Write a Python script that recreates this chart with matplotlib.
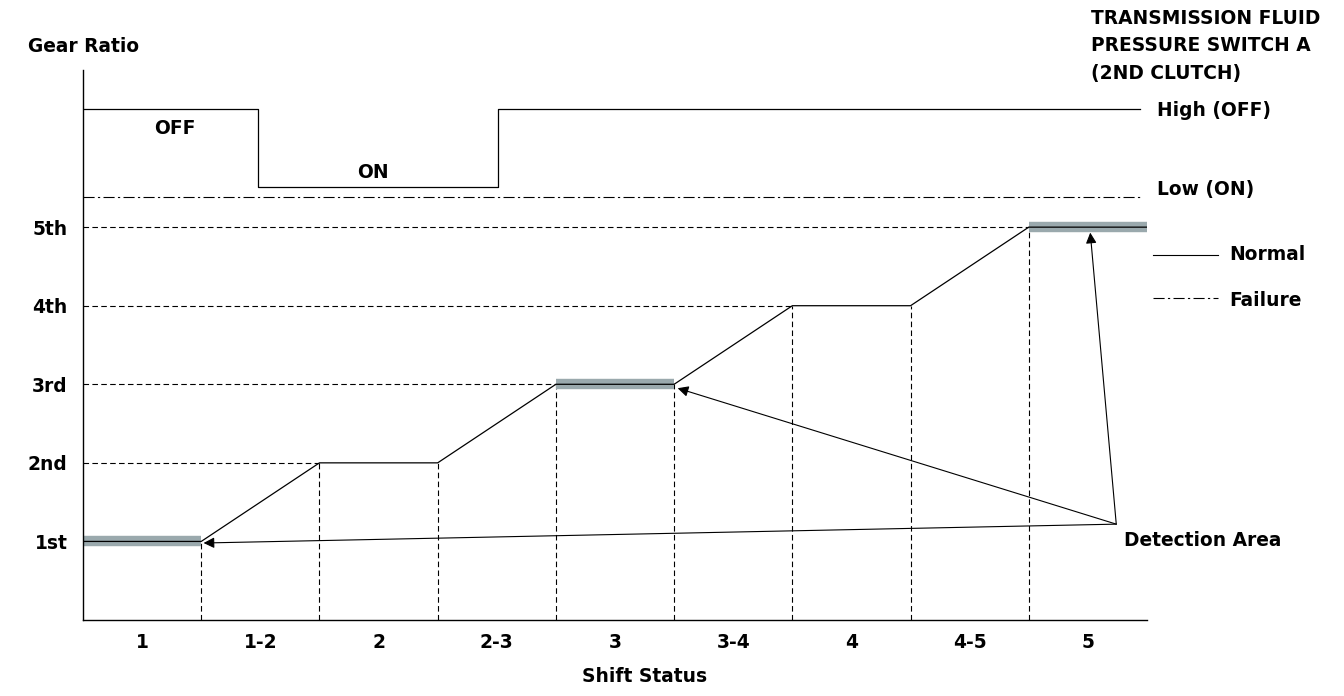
import matplotlib.pyplot as plt

plt.rcParams['font.family'] = ['DejaVu Sans']
plt.rcParams['font.weight'] = 'bold'

# shift status categories and gear levels
shift_labels = ["1", "1-2", "2", "2-3", "3", "3-4", "4", "4-5", "5"]
gear_labels = ["1st", "2nd", "3rd", "4th", "5th"]
gear_levels = [1, 2, 3, 4, 5]

# normal gear ratio trace (x in shift-status units)
trace_x = [0, 1, 2, 3, 4, 5, 6, 7, 8, 9]
trace_y = [1, 1, 2, 2, 3, 3, 4, 4, 5, 5]

# detection areas (held gears where the switch is checked)
detect_x0 = [0, 4, 8]
detect_x1 = [1, 5, 9]
detect_y = [1, 3, 5]

# pressure switch A signal
switch_x = [0, 1.48, 1.48, 3.51, 3.51, 8.94]
switch_y = [6.5, 6.5, 5.51, 5.51, 6.5, 6.5]
switch_low = 5.38

# arrows from "Detection Area"
arrow_from = (8.74, 1.22)
arrow_to = [(1.02, 0.98), (5.03, 2.95), (8.52, 4.93)]

FS = 13.4

fig = plt.figure(figsize=(13.44, 6.96), dpi=100)
ax = fig.add_axes([83 / 1344, 1 - 620 / 696, (1147 - 83) / 1344, 550 / 696])
ax.set_xlim(0, 9)
ax.set_ylim(0, 7)
for s in ['top', 'right']:
    ax.spines[s].set_visible(False)
ax.spines['left'].set_linewidth(1.0)
ax.spines['bottom'].set_linewidth(1.0)

dash = (0, (5, 3))
dashdot = (0, (10, 3, 2, 3))

# gray detection bands
for x0, x1, y in zip(detect_x0, detect_x1, detect_y):
    ax.plot([x0, x1], [y, y], color='#9aa9ad', lw=7.5, solid_capstyle='butt', zorder=2)

# horizontal dashed guides to each gear
for g in gear_levels[1:]:
    xg = trace_x[trace_y.index(g)]
    ax.plot([0, xg], [g, g], color='black', lw=0.8, ls=dash, zorder=1)

# vertical dashed guides at each shift boundary
for xb, yb in zip(trace_x[1:-1], trace_y[1:-1]):
    ax.plot([xb, xb], [0, yb], color='black', lw=0.8, ls=dash, zorder=1)

ax.plot(trace_x, trace_y, color='black', lw=0.9, zorder=3)

# switch signal
ax.plot(switch_x, switch_y, color='black', lw=0.9, zorder=3)
ax.plot([0, switch_x[-1]], [switch_low, switch_low], color='black', lw=0.8, ls=dashdot)
ax.text(0.78, 6.25, "OFF", ha='center', va='center', fontsize=FS)
ax.text(2.45, 5.70, "ON", ha='center', va='center', fontsize=FS)

for tgt in arrow_to:
    ax.annotate("", xy=tgt, xytext=arrow_from,
                arrowprops=dict(arrowstyle='-|>', color='black', lw=0.8,
                                mutation_scale=16, shrinkA=0, shrinkB=0))

ax.set_xticks([i + 0.5 for i in range(len(shift_labels))])
ax.set_xticklabels(shift_labels, fontsize=FS)
ax.set_yticks(gear_levels)
ax.set_yticklabels(gear_labels, fontsize=FS)
ax.tick_params(axis='x', length=0, pad=9)
ax.tick_params(axis='y', length=0, pad=11)

# figure-level texts
fig.text(645 / 1344, 1 - 676 / 696, "Shift Status", ha='center', va='center', fontsize=FS)
fig.text(28 / 1344, 1 - 46 / 696, "Gear Ratio", ha='left', va='center', fontsize=FS)
fig.text(1091 / 1344, 1 - 9 / 696, "TRANSMISSION FLUID\nPRESSURE SWITCH A\n(2ND CLUTCH)",
         ha='left', va='top', fontsize=FS, linespacing=1.55)
fig.text(1157 / 1344, 1 - 111 / 696, "High (OFF)", ha='left', va='center', fontsize=FS)
fig.text(1157 / 1344, 1 - 189 / 696, "Low (ON)", ha='left', va='center', fontsize=FS)
fig.text(1124 / 1344, 1 - 541 / 696, "Detection Area", ha='left', va='center', fontsize=FS)

# legend drawn by hand
fig.add_artist(plt.Line2D([1153 / 1344, 1218 / 1344], [1 - 255 / 696, 1 - 255 / 696],
                          color='black', lw=0.8))
fig.add_artist(plt.Line2D([1153 / 1344, 1218 / 1344], [1 - 298 / 696, 1 - 298 / 696],
                          color='black', lw=0.8, ls=dashdot))
fig.text(1229 / 1344, 1 - 255 / 696, "Normal", ha='left', va='center', fontsize=FS)
fig.text(1229 / 1344, 1 - 301 / 696, "Failure", ha='left', va='center', fontsize=FS)

fig.savefig("out.png", dpi=100)
